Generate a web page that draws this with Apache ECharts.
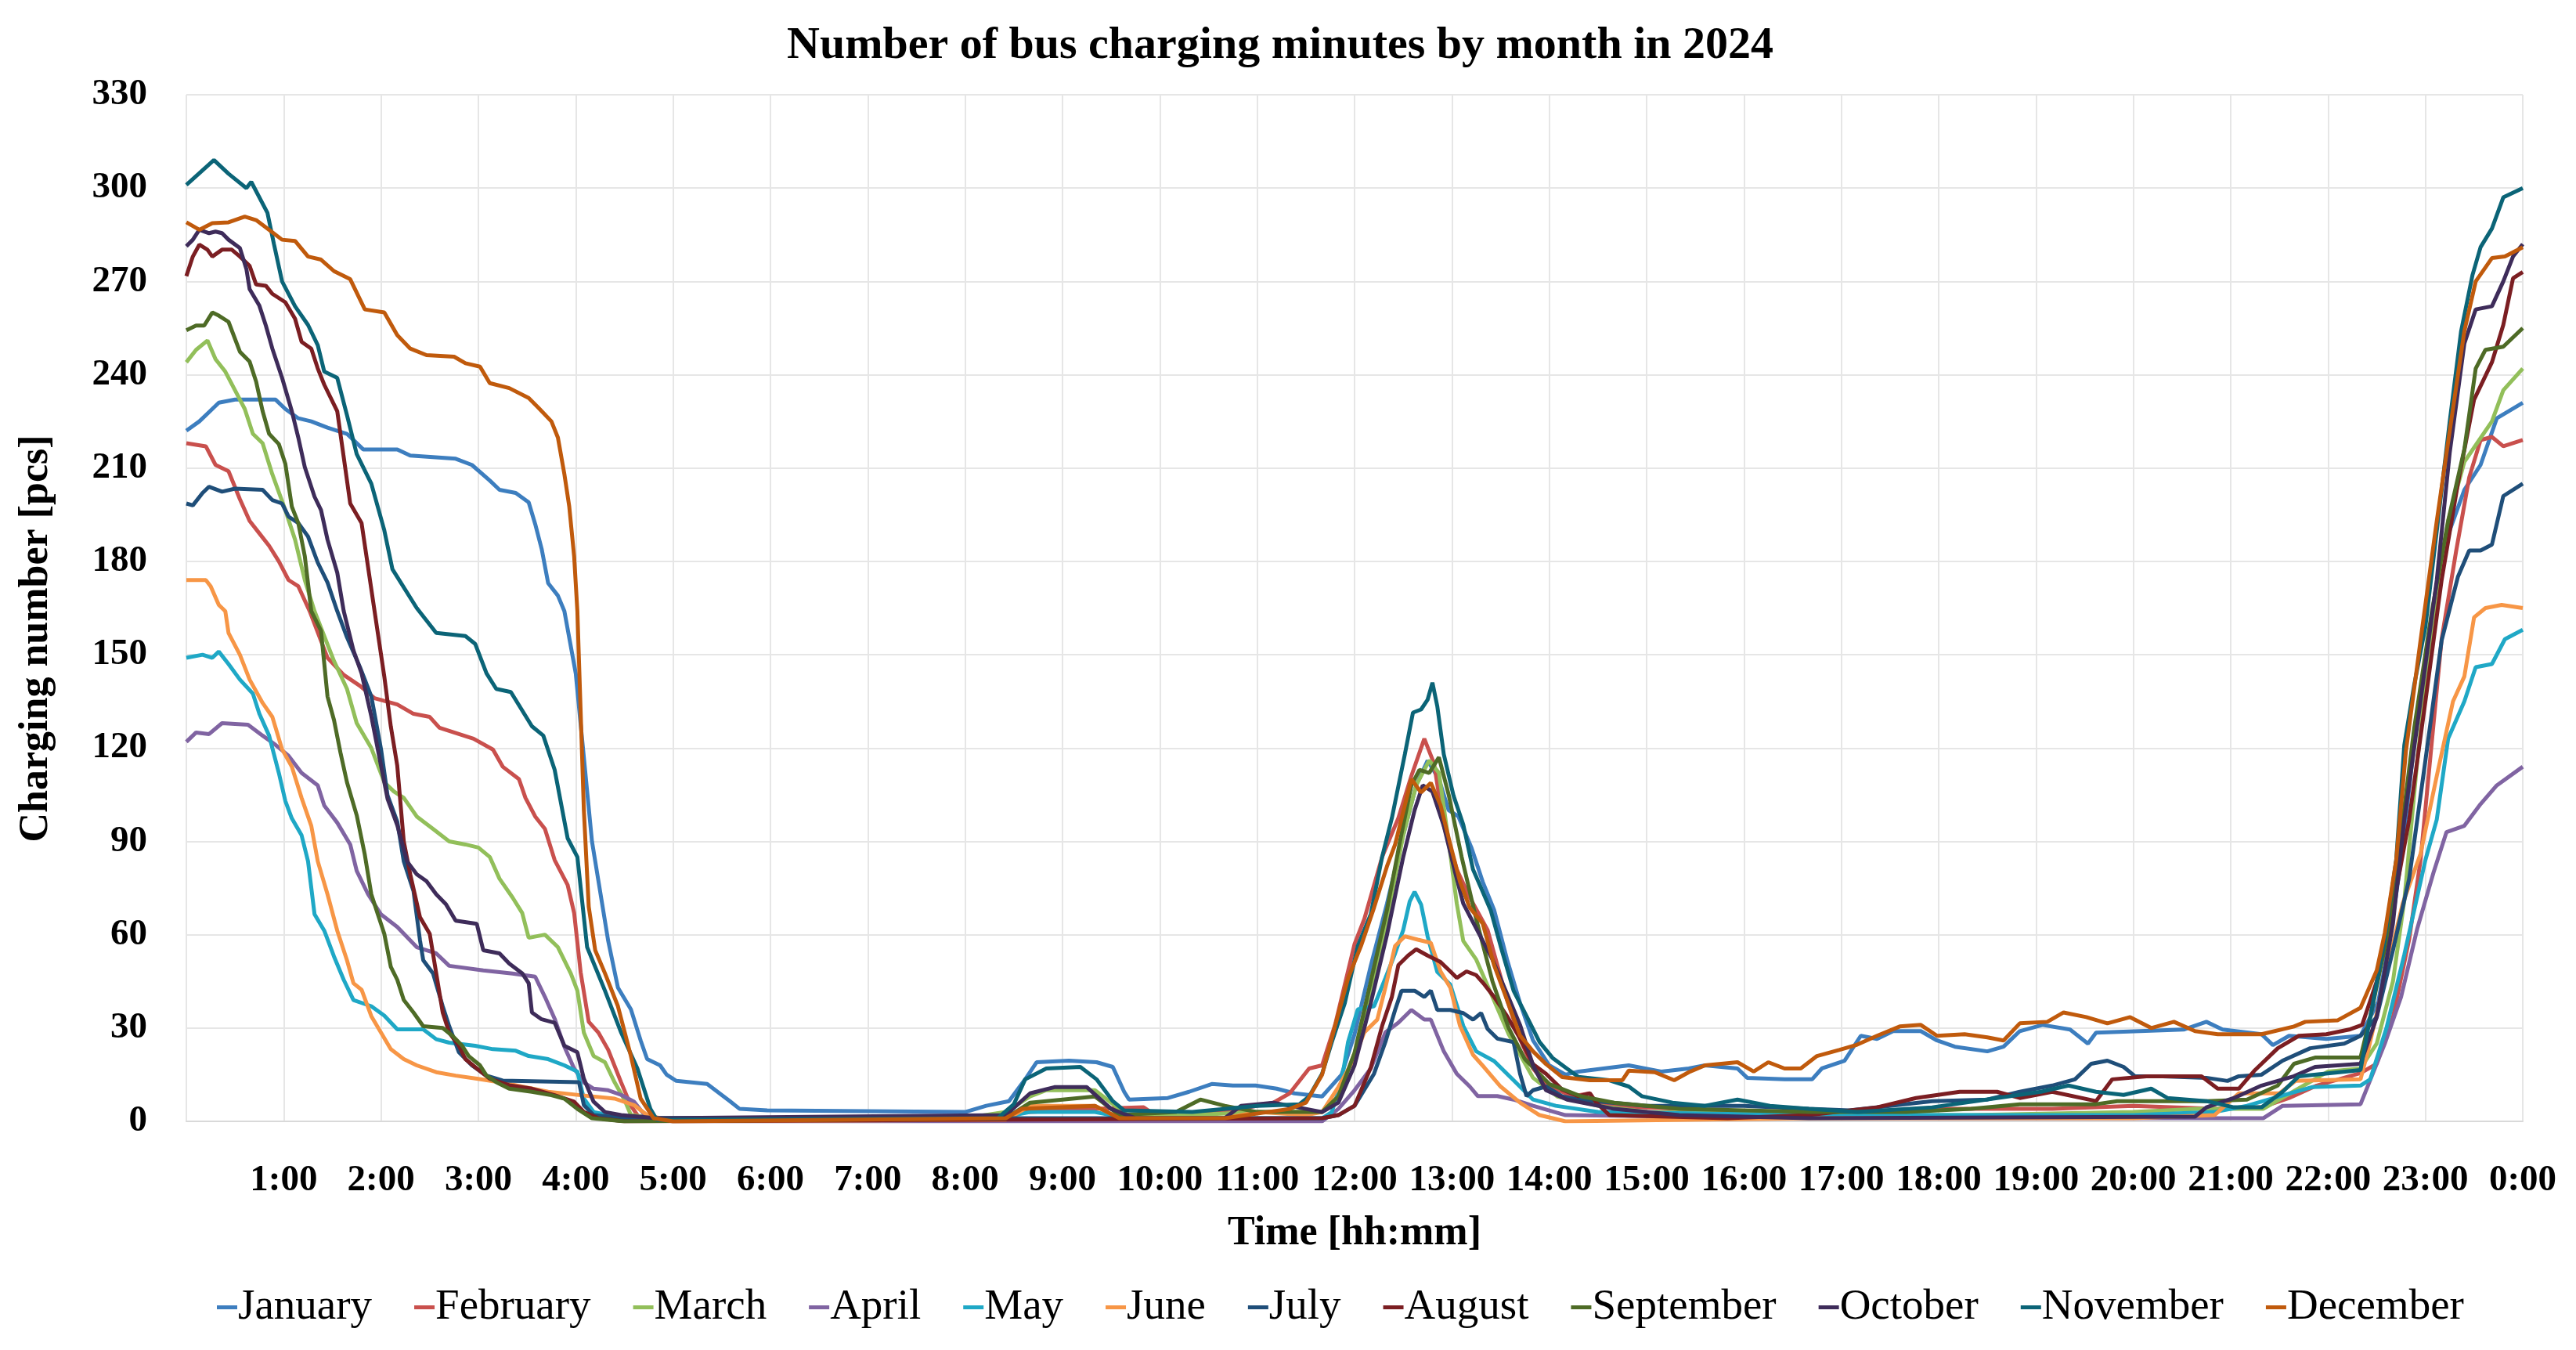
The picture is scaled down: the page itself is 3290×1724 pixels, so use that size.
<!DOCTYPE html>
<html>
<head>
<meta charset="utf-8">
<script src="https://cdn.jsdelivr.net/npm/echarts@6/dist/echarts.min.js"></script>
<style>
html,body{margin:0;padding:0;background:#fff;}
#chart{width:3290px;height:1724px;}
</style>
</head>
<body>
<div id="chart"></div>
<script>
const monthNames = ['January','February','March','April','May','June','July','August','September','October','November','December'];
const monthColors = ['#3D7EBF','#C9504D','#92BF5A','#8064A2','#1FA8C6','#F79646','#1F4E79','#7B1E22','#4E6B26','#3E2C5A','#0B6477','#C05A0C'];
const yTicks = {min:0, max:330, step:30};
const xTicks = {min:0, max:1440, step:60};

const january = [[0,222],[8,225],[14,228],[20,231],[30,232],[55,232],[61,229],[69,226],[77,225],[87,223],[99,221],[109,216],[130,216],[138,214],[166,213],[176,211],[187,206],[193,203],[203,202],[211,199],[215,192],[219,184],[223,173],[229,169],[233,164],[240,144],[250,90],[260,58],[266,43],[274,36],[280,26],[284,20],[292,18],[296,15],[302,13],[321,12],[335,6.5],[341,4],[358,3.5],[480,3],[493,5],[507,6.5],[517,13.5],[524,19],[544,19.5],[561,19],[571,17.5],[578,9.5],[581,7],[605,7.5],[618,9.5],[632,12],[645,11.5],[659,11.5],[672,10.5],[683,9],[700,8],[712,15],[720,28],[730,50],[740,70],[750,92],[758,108],[765,116],[772,110],[778,100],[784,98],[792,88],[799,77],[806,68],[814,52],[822,38],[830,26],[840,18],[850,15],[858,16],[889,18],[909,16],[926,17],[936,18],[956,17],[962,14],[985,13.5],[1002,13.5],[1008,17],[1022,19.5],[1032,27.5],[1042,26.5],[1052,29],[1069,29],[1079,26],[1090,24],[1110,22.5],[1120,24],[1130,29],[1144,31],[1161,29.5],[1172,25],[1177,28.5],[1204,29],[1231,29.5],[1245,32],[1255,29.5],[1279,28],[1286,24.5],[1296,27.5],[1319,26.5],[1340,27.5],[1351,38.5],[1358,58.5],[1365,84],[1375,130],[1385,165],[1395,190],[1404,203],[1414,211],[1424,226],[1440,231]];
const february = [[0,218],[12,217],[18,211],[26,209],[33,200],[39,193],[45,189],[51,185],[57,180],[63,174],[69,172],[76,164],[87,149],[97,143.5],[107,140],[116,136],[130,134],[140,131],[150,130],[156,126.5],[168,124.5],[177,123],[189,119.5],[195,114],[205,110],[209,104],[215,98],[221,94],[227,84],[235,76],[239,67],[243,48],[248,32],[254,28.5],[260,23],[268,12.5],[274,5],[280,0.5],[480,0.5],[500,2],[520,3],[560,4],[590,4.5],[600,1],[620,2],[650,4],[670,6],[680,9],[692,17],[700,18],[708,31],[720,57],[726,65],[737,85],[747,97.5],[755,111],[763,123],[769,115],[775,95],[783,81],[791,72],[802,61.5],[814,39],[822,26.5],[830,17],[838,12],[854,8],[865,9],[869,6],[877,5],[920,4],[960,3],[1020,3],[1080,4],[1150,4],[1200,5],[1250,4],[1279,4.5],[1296,7.5],[1313,11.5],[1340,15.5],[1350,18.5],[1360,33.5],[1370,58.5],[1377,84],[1390,155],[1399,183.5],[1407,207],[1414,219],[1421,220],[1428,217],[1440,219]];
const march = [[0,244],[6,248],[13,251],[18,245],[24,241],[30,235],[36,229],[41,221],[47,218],[53,208],[61,196.5],[67,187],[73,174],[79,164],[91,148],[99,139],[105,128],[114,120],[122,109],[128,106],[134,104],[142,98],[152,94],[162,90],[172,89],[180,88],[187,85],[193,78],[201,72],[207,67],[211,59],[221,60],[229,56],[237,47.5],[241,42],[245,28.5],[251,21],[258,19],[264,12.5],[270,7],[274,2],[290,1],[480,1],[505,3],[520,8],[530,10],[560,10],[570,6],[580,2],[620,2],[660,3],[700,3],[710,8],[720,22],[730,40],[740,65],[750,92],[758,108],[766,116],[772,112],[778,90],[783,70],[787,58],[795,52],[805,40],[815,28],[830,14],[845,8],[870,5],[900,3],[1000,2],[1100,2],[1200,3],[1240,4],[1280,4],[1300,10],[1320,16],[1340,17],[1350,25],[1360,45],[1367,71],[1375,116],[1384,159],[1394,193],[1404,212],[1421,225],[1428,235],[1440,242]];
const april = [[0,122],[6,125],[14,124.5],[22,128],[38,127.5],[47,124],[55,121],[63,117.5],[71,112],[81,108],[85,101.5],[93,96],[101,89],[105,80.5],[112,73],[120,66.5],[130,62.5],[142,56],[154,54],[162,50],[183,48.5],[201,47.5],[215,46.5],[221,40],[227,33],[233,24],[239,17],[245,12.5],[251,10.5],[260,10],[268,8.5],[276,6.3],[284,1],[300,0],[700,0],[710,4],[720,10],[730,17],[739,28.6],[747,31.7],[755,35.8],[763,32.7],[767,32.7],[775,22.5],[783,15.3],[791,11.2],[796,8.1],[808,8.1],[818,7],[830,5],[850,2],[1000,1],[1280,1],[1292,5],[1340,5.5],[1345,12],[1355,25],[1365,40],[1375,62],[1385,80],[1393,93],[1404,95],[1414,102],[1424,108],[1440,114]];
const may = [[0,149],[10,150],[16,149],[20,151],[26,147],[33,142],[41,137.5],[45,131],[51,124],[57,112],[61,103],[65,97.4],[71,92],[75,83.6],[79,66.6],[85,61.3],[91,53],[97,45.5],[103,39],[114,37],[122,34],[130,29.6],[146,29.6],[154,26.4],[162,25.3],[178,24.3],[189,23.2],[203,22.7],[211,21],[223,20],[233,18],[241,16],[245,7.3],[251,3],[270,1],[500,1],[520,3],[560,3],[580,1],[700,1],[706,3],[712,13],[716,25.5],[722,36],[732,37],[739,46],[745,54],[750,61.5],[754,70.7],[757,73.8],[761,69.7],[765,59.5],[771,48],[779,44],[787,30.7],[795,22.5],[806,19.4],[818,13.2],[830,7],[844,5],[870,3],[1000,2],[1200,2],[1250,3],[1270,5],[1290,8],[1310,11],[1340,11.5],[1346,13.5],[1356,30],[1367,53.6],[1380,84],[1387,97],[1394,123],[1404,135],[1411,146],[1421,147],[1429,155],[1440,158]];
const june = [[0,174],[12,174],[15,172],[20,166],[24,164],[26,157],[33,150],[39,142],[47,134.5],[53,130],[59,119.6],[65,114],[71,104],[77,95],[81,83.6],[87,73],[93,61.3],[99,51.8],[103,44.4],[108,42.3],[114,33.8],[120,28.5],[126,23.2],[134,20],[142,18],[154,15.8],[166,14.7],[179,13.7],[193,12.6],[203,11.6],[223,9.5],[243,8.4],[264,7.3],[276,5.2],[284,2],[300,0],[505,0.5],[520,5],[560,5],[575,1],[640,1],[660,3],[690,2],[700,3],[710,11],[720,20.4],[726,28.6],[734,32.7],[739,43],[745,56.4],[751,59.5],[759,58.4],[767,57.4],[773,48.2],[779,43],[785,30.7],[793,21.4],[800,17.3],[810,11.2],[822,6],[834,2],[850,0],[1000,1],[1200,1],[1250,2],[1265,9],[1290,9],[1300,13],[1340,13.5],[1345,23.5],[1356,48],[1366,70],[1377,86],[1387,111],[1397,135],[1404,143],[1410,162],[1417,165],[1427,166],[1440,165]];
const july = [[0,198.6],[4,198],[10,202],[14,204],[22,202.4],[30,203.4],[47,203],[53,199.7],[59,198.6],[63,194.4],[69,192.3],[75,188],[81,179.6],[87,173.2],[93,164],[99,155.6],[107,146],[114,136.6],[120,119.6],[124,104.8],[130,96.3],[134,83.6],[140,74],[144,58.2],[146,51.8],[152,47.6],[158,37],[162,30.6],[168,22.2],[176,18],[185,14.7],[195,13.1],[242,12.6],[245,5.2],[251,2],[270,1],[700,1],[710,2],[720,5],[732,15.3],[739,25.5],[745,35.8],[749,42],[757,42],[763,40],[767,42],[771,35.8],[779,35.8],[787,34.8],[793,32.7],[798,34.8],[802,29.7],[808,26.6],[818,25.5],[822,15.3],[826,8.1],[830,10],[838,11.2],[848,8],[858,7],[900,5],[960,5],[1000,4],[1025,3.5],[1076,6.5],[1110,7],[1130,9.5],[1150,11.5],[1164,13.5],[1174,18.5],[1184,19.5],[1194,17.5],[1201,14.5],[1218,14.5],[1245,14],[1258,13],[1265,14.5],[1279,15],[1292,19.5],[1309,23.5],[1330,25],[1340,27.5],[1350,33.5],[1360,55],[1370,78],[1380,116],[1390,154.6],[1400,175],[1407,183.5],[1414,183.5],[1421,185.4],[1428,201],[1440,205]];
const august = [[0,271.7],[4,278],[8,281.8],[13,280.2],[16,278],[22,280.2],[28,280.2],[33,278],[39,275],[43,269],[49,268.6],[53,266],[61,263.3],[67,258],[71,250.6],[77,248.4],[81,242],[85,236.8],[93,228.3],[97,213.5],[101,198.6],[108,192.3],[116,164],[122,143],[126,127],[130,114.3],[134,90],[138,79.4],[144,65.6],[150,60.3],[154,47.6],[158,35],[162,28.5],[168,24.3],[172,20],[179,17],[187,13.7],[199,11.6],[213,10.5],[227,8.4],[239,6.3],[245,3],[254,1],[270,0],[700,1],[710,2],[720,5],[730,17.3],[737,30.7],[743,40],[747,50.2],[753,53.3],[758,55.3],[765,53.3],[773,51.2],[779,48.2],[783,46.1],[789,48.2],[795,47],[800,44],[806,40],[814,33.8],[822,26.6],[830,18.4],[838,15.3],[848,10.2],[858,8.1],[865,9],[869,6],[877,2],[950,1],[1000,2],[1042,4.5],[1066,7.5],[1093,9.5],[1116,9.5],[1130,7.5],[1150,9.5],[1177,6.5],[1187,13.5],[1208,14.5],[1242,14.5],[1252,10.5],[1265,10.5],[1275,16.5],[1289,23.5],[1302,27.5],[1319,28],[1333,29.5],[1341,31],[1350,45],[1357,60],[1370,97],[1380,135],[1390,174],[1400,205],[1410,232],[1421,244],[1428,256],[1434,271],[1440,273]];
const september = [[0,254.3],[6,255.8],[11,255.8],[16,260],[20,259],[26,257],[33,247.4],[39,244.2],[43,237.8],[47,228.3],[51,221],[57,217.7],[61,211.4],[65,197.6],[69,192.3],[73,181.7],[77,164],[83,157.7],[87,136.6],[91,129],[95,118.5],[99,109],[105,98.4],[110,85.7],[114,73],[118,66.6],[122,60.3],[126,49.7],[130,45.5],[134,39],[140,35],[146,30.6],[158,30],[164,27.5],[170,24.3],[174,21],[181,18],[185,14.7],[191,12.6],[199,10.5],[213,9.5],[225,8.4],[233,7.3],[241,4],[250,1],[270,0],[505,1],[520,6],[560,8],[575,2],[610,3],[625,7],[640,5],[660,3],[700,3],[710,8],[720,22],[730,45],[740,68],[748,90],[755,108],[760,113],[766,112],[772,117],[778,105],[786,85],[795,65],[805,45],[815,30],[825,20],[840,12],[860,8],[880,6],[920,4],[1000,3],[1060,3],[1100,4],[1130,5.5],[1177,5.5],[1190,6.5],[1245,6.5],[1270,7],[1289,11.5],[1299,18.5],[1312,20.5],[1340,20.5],[1346,33.5],[1356,58.5],[1363,84],[1373,126],[1384,164],[1394,193],[1404,216],[1411,242],[1417,248],[1428,249],[1440,255]];
const october = [[0,281.3],[4,283.4],[8,286.6],[14,285.5],[18,286],[22,285.5],[26,283.4],[33,280.7],[37,274],[39,267.5],[45,262.2],[49,255.8],[53,248.4],[59,239],[65,228.3],[69,219.8],[73,210.3],[79,200.8],[83,196.5],[87,187],[93,176.4],[97,164],[103,151.4],[108,144],[114,130.2],[120,114.3],[124,103.7],[130,95.2],[136,83.6],[142,79.4],[148,77.2],[154,73],[160,69.8],[166,64.5],[179,63.5],[183,55],[193,54],[199,50.7],[207,47.6],[211,44.4],[213,35],[219,32.8],[227,31.7],[233,24.3],[241,22.2],[245,13.7],[251,6.3],[258,3],[268,2],[290,1],[505,2],[520,9],[535,11],[555,11],[570,4],[585,1],[640,1],[650,5],[670,6],[690,4],[700,3],[710,6],[720,18],[730,38],[740,60],[750,85],[757,100],[762,108],[768,106],[775,95],[782,80],[787,70],[795,62],[805,52],[814,41],[822,31],[830,18],[838,10],[851,7],[880,4],[920,2],[1000,1],[1238,1.5],[1245,4.5],[1262,7.5],[1279,11.5],[1299,14.5],[1312,17.5],[1340,18.5],[1350,33.5],[1360,63.6],[1367,97],[1377,135],[1387,174],[1395,215],[1404,250],[1411,261],[1421,262],[1428,270],[1434,278],[1440,282]];
const november = [[0,301],[17,309],[26,304.6],[37,300],[40,302],[50,292],[54,282],[59,270],[67,262],[75,256],[81,249.5],[85,241],[93,239],[99,227],[105,214.5],[114,205],[122,190],[127,177.5],[142,165],[154,157],[172,156],[178,153.5],[185,144],[191,139],[200,138],[213,127],[220,124],[227,113],[235,91],[241,85],[247,56],[258,42],[268,28.5],[278,17],[286,4],[290,0.5],[500,1],[510,5.5],[517,13.5],[530,17],[551,17.5],[561,13.5],[571,6.5],[578,3.5],[620,3],[660,5],[686,5.5],[692,8],[700,15.3],[706,25.5],[714,38],[722,56.4],[730,66.6],[737,85],[743,97.5],[751,118],[756,131.4],[761,132.4],[765,135.5],[768,141],[771,133.4],[775,118],[781,104.7],[787,95.4],[793,81],[798,75],[804,67.7],[810,56.4],[818,42],[826,33.8],[834,25.5],[842,20.4],[850,17.3],[858,14.3],[877,13.2],[889,11.2],[897,8.1],[916,6],[936,5],[956,7],[976,5],[1000,4],[1030,3],[1076,4.5],[1116,7.5],[1143,9.5],[1160,11.5],[1177,9.5],[1194,8.5],[1211,10.5],[1221,7.5],[1245,6.5],[1262,4.5],[1279,4.5],[1292,9.5],[1302,14.5],[1340,16.5],[1346,33.5],[1355,58.5],[1362,84],[1367,121],[1373,140],[1380,159],[1395,225],[1402,254],[1409,272],[1414,281],[1421,287],[1428,297],[1440,300]];
const december = [[0,289],[8,286.6],[16,288.7],[26,289],[36,290.8],[43,289.7],[51,286.6],[59,283.4],[67,283],[75,278],[83,277],[91,273.3],[101,270.7],[110,261],[122,260],[130,252.7],[138,248.4],[148,246.3],[165,245.8],[172,243.7],[181,242.6],[187,237.3],[199,235.7],[211,232.5],[217,229.4],[225,225],[229,219.8],[233,208],[236,197.6],[239,181.7],[241,164],[243,132],[245,100],[248,69],[252,55],[258,47.6],[266,37],[274,21],[280,7.3],[288,1],[300,0],[505,1],[515,4],[560,5],[575,1],[640,1],[680,4],[690,6],[700,15],[708,30.7],[716,46],[724,56.4],[732,68.7],[740,82],[745,89],[751,101.6],[755,110],[761,105.7],[767,108.8],[773,101.6],[779,89],[785,77],[791,68.7],[799,63.6],[806,50.2],[814,39],[822,27.6],[830,22.5],[838,18.4],[848,14.2],[865,13.2],[885,13.2],[889,16.3],[905,15.8],[917,13.2],[926,15.8],[936,18],[956,19],[966,16],[975,19],[985,17],[995,17],[1005,21],[1019,23],[1029,24.5],[1042,27.5],[1056,30.5],[1069,31],[1079,27.5],[1096,28],[1110,27],[1120,26],[1130,31.5],[1147,32],[1157,35],[1171,33.5],[1184,31.5],[1198,33.5],[1211,30],[1225,32],[1238,29],[1252,28],[1279,28],[1299,30.5],[1306,32],[1326,32.5],[1340,36.5],[1350,48.5],[1355,60.6],[1362,84],[1368,119],[1377,154.6],[1387,193],[1395,222],[1404,254],[1411,270],[1421,277.5],[1429,278],[1440,281]];

const monthData = [january,february,march,april,may,june,july,august,september,october,november,december];

const FONT = '"Liberation Serif", "Times New Roman", serif';
const chart = echarts.init(document.getElementById('chart'), null, {renderer:'canvas'});

const series = monthNames.map((name, i) => ({
  name: name,
  type: 'line',
  data: monthData[i],
  showSymbol: false,
  symbol: 'none',
  smooth: false,
  lineStyle: {width: 5, color: monthColors[i]},
  itemStyle: {color: monthColors[i]},
  emphasis: {disabled: true}
}));

chart.setOption({
  animation: false,
  backgroundColor: '#ffffff',
  title: {
    text: 'Number of bus charging minutes by month in 2024',
    left: 1005,
    top: 30,
    padding: 0,
    textStyle: {fontFamily: FONT, fontWeight: 'bold', fontSize: 58, color: '#000'}
  },
  legend: {
    data: monthNames,
    bottom: 22,
    left: 272,
    icon: 'rect',
    itemWidth: 26,
    itemHeight: 5,
    itemGap: 54,
    textStyle: {fontFamily: FONT, fontSize: 55, color: '#000', padding: [0,0,0,-4]}
  },
  grid: {left: 238, right: 68, top: 121, bottom: 292, containLabel: false},
  xAxis: {
    type: 'value',
    min: xTicks.min, max: xTicks.max, interval: xTicks.step,
    name: 'Time [hh:mm]',
    nameLocation: 'middle',
    nameGap: 118,
    nameTextStyle: {fontFamily: FONT, fontWeight: 'bold', fontSize: 52, color: '#000'},
    axisLine: {show: true, lineStyle: {color: '#d9d9d9', width: 2}},
    axisTick: {show: false},
    splitLine: {show: true, lineStyle: {color: '#e6e6e6', width: 2}},
    axisLabel: {
      margin: 52,
      fontFamily: FONT, fontWeight: 'bold', fontSize: 47, color: '#000',
      showMinLabel: true, showMaxLabel: true,
      formatter: v => v === 0 ? '' : ((v / 60) % 24) + ':00'
    }
  },
  yAxis: {
    type: 'value',
    min: yTicks.min, max: yTicks.max, interval: yTicks.step,
    name: 'Charging number [pcs]',
    nameLocation: 'middle',
    nameGap: 165,
    nameTextStyle: {fontFamily: FONT, fontWeight: 'bold', fontSize: 52, color: '#000', padding: [0, 78, 0, 0]},
    axisLine: {show: false},
    axisTick: {show: false},
    splitLine: {show: true, lineStyle: {color: '#e6e6e6', width: 2}},
    axisLabel: {margin: 50, fontFamily: FONT, fontWeight: 'bold', fontSize: 47, color: '#000'}
  },
  series: series
});
</script>
</body>
</html>
